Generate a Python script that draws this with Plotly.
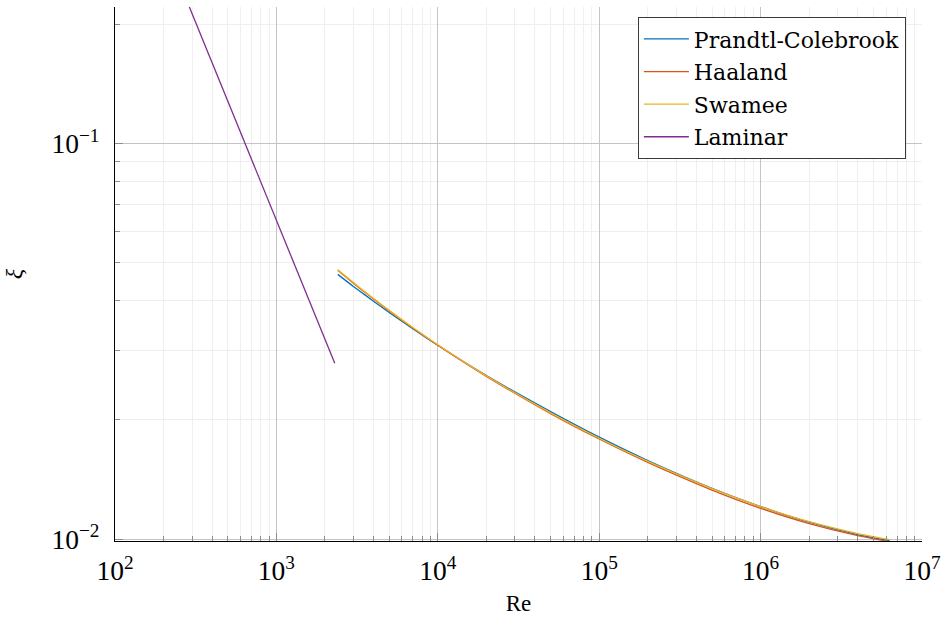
import plotly.graph_objects as go

# Reynolds numbers for the turbulent friction-factor curves
re_turb = [2400, 3000, 3500, 5000, 7000, 1e4, 2e4, 5e4, 1e5, 2e5, 5e5, 1e6, 2e6, 4e6, 6.3e6]

# Friction factor xi for each correlation
xi_colebrook = [0.0467, 0.04353, 0.04156, 0.0374, 0.03404, 0.0309, 0.0259, 0.0210, 0.0181, 0.0158,
                0.01344, 0.01208, 0.01103, 0.01026, 0.00990]
xi_haaland = [0.0478, 0.04435, 0.04218, 0.03774, 0.03417, 0.0309, 0.02578, 0.02076, 0.0179, 0.01562,
              0.0133, 0.01196, 0.01094, 0.0102, 0.00985]
xi_swamee = [0.04797, 0.04451, 0.04234, 0.03787, 0.03428, 0.03101, 0.02586, 0.02084, 0.01798, 0.01571,
             0.01341, 0.01208, 0.01106, 0.01032, 0.00996]

# Laminar branch (straight line in log-log)
re_lam = [200, 2300]
xi_lam = [0.32, 0.02783]

series = [
    ("Prandtl-Colebrook", re_turb, xi_colebrook, "#0072BD"),
    ("Haaland", re_turb, xi_haaland, "#D95319"),
    ("Swamee", re_turb, xi_swamee, "#EDB120"),
    ("Laminar", re_lam, xi_lam, "#7E2F8E"),
]

FONT = "Liberation Serif"
LEGEND_FONT = "DejaVu Serif"

fig = go.Figure()
for name, x, y, color in series:
    fig.add_trace(go.Scatter(
        x=x, y=y, mode="lines", name=name, legendgroup=name,
        line=dict(color=color, width=1.3, shape="spline", smoothing=0.6),
    ))

axis_common = dict(
    type="log",
    dtick=1,
    exponentformat="power",
    showline=True,
    linecolor="black",
    linewidth=1.3,
    mirror=False,
    ticks="inside",
    ticklen=8,
    tickcolor="#8c8c8c",
    tickwidth=1,
    showgrid=True,
    gridcolor="#c4c4c4",
    gridwidth=1,
    zeroline=False,
    tickfont=dict(family=FONT, size=22, color="black"),
    minor=dict(showgrid=True, gridcolor="#efefef", ticks="inside",
               ticklen=5, tickcolor="#8c8c8c"),
)

fig.update_xaxes(
    **axis_common,
    range=[2, 7],
    title=dict(text="Re", font=dict(family=FONT, size=23, color="black"), standoff=9),
    ticklabelstandoff=6,
)
fig.update_yaxes(
    **axis_common,
    range=[-2.005, -0.6545],
    title=dict(text="<i>ξ</i>", font=dict(family=FONT, size=24, color="black"), standoff=22),
    ticklabelstandoff=10,
)

fig.update_layout(
    width=948,
    height=618,
    margin=dict(l=115, r=26, t=7, b=75),
    paper_bgcolor="white",
    plot_bgcolor="white",
    legend=dict(
        x=0.980, y=0.981, xanchor="right", yanchor="top",
        bgcolor="white", bordercolor="#3a3a3a", borderwidth=1,
        font=dict(family=LEGEND_FONT, size=22, color="black"),
        itemwidth=45, tracegroupgap=1,
    ),
    showlegend=True,
)

fig.write_html("out.html")
